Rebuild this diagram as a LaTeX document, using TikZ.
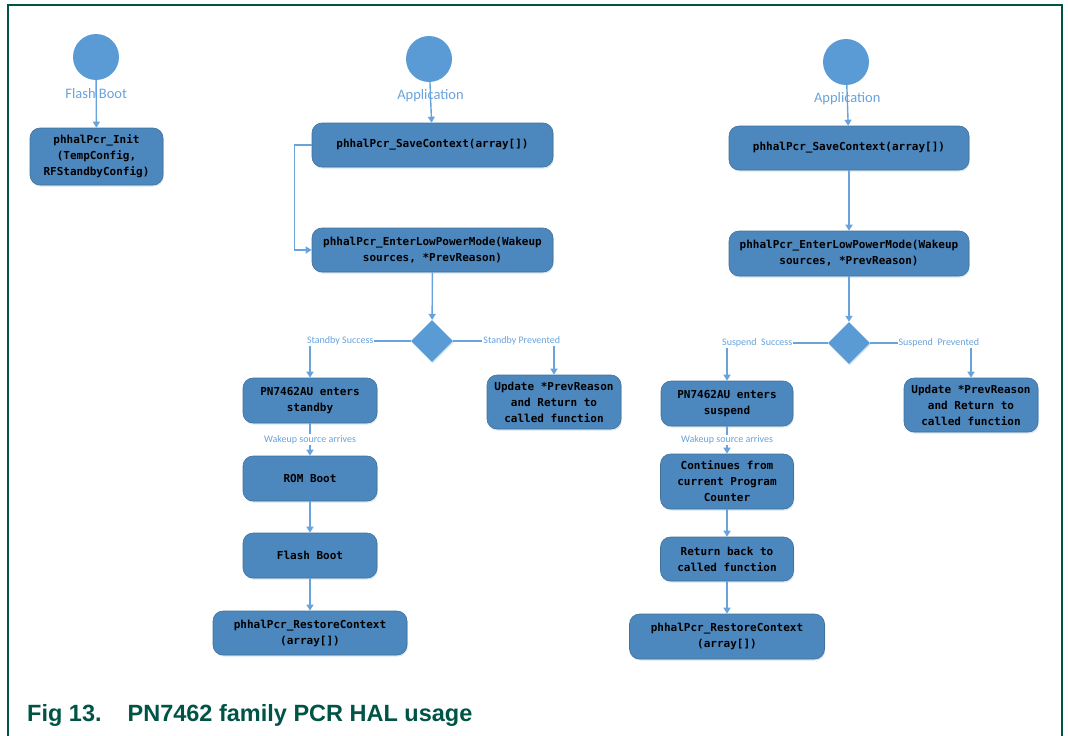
\documentclass[tikz,border=0pt]{standalone}
\usepackage{fontspec}
\setmainfont{Carlito}
\newfontfamily\monopcr{DejaVu Sans Mono}
\newfontfamily\legendepcr{Liberation Sans}
\usetikzlibrary{shapes.geometric}
\usetikzlibrary{arrows.meta}
\usetikzlibrary{shadows}
\definecolor{boitebleu}{RGB}{76,135,189}
\definecolor{bordbleu}{RGB}{65,113,156}
\definecolor{clairbleu}{RGB}{91,155,213}
\definecolor{lienbleu}{RGB}{104,163,220}
\definecolor{vertnxp}{RGB}{0,84,70}

\begin{document}
\begin{tikzpicture}[x=1pt,y=-1pt]
% définition des paramètres
\tikzstyle boitepcr=[draw=bordbleu,line width=0.6pt,fill=boitebleu,rounded corners=10pt,align=center,text=black,inner sep=2pt,font=\monopcr\bfseries\fontsize{11}{16}\selectfont,drop shadow={shadow xshift=0.8pt,shadow yshift=-1.5pt,opacity=0.25,fill=clairbleu}]
\tikzstyle rondpcr=[circle,fill=clairbleu,minimum size=46pt,inner sep=0pt]
\tikzstyle losangepcr=[diamond,fill=clairbleu,minimum width=42pt,minimum height=42pt,inner sep=0pt,drop shadow={shadow xshift=0.8pt,shadow yshift=-1.5pt,opacity=0.25,fill=clairbleu}]
\tikzstyle lienpcr=[draw=lienbleu,line width=1.4pt,-{Triangle[width=7pt,length=6pt]}]
\tikzstyle textepcr=[text=lienbleu,font=\fontsize{10}{12}\selectfont,inner sep=1pt,fill=white]
\tikzstyle titrepcr=[text=lienbleu,font=\fontsize{14.5}{17}\selectfont,inner sep=0pt]
\useasboundingbox (0,0) rectangle (1068,736);
% le cadre
\draw[vertnxp,line width=1.2pt] (8,736) -- (8,5) -- (1062,5) -- (1062,736);
% colonne de gauche
\node[rondpcr] (rond1) at (96,57) {};
\node[boitepcr,minimum width=133pt,minimum height=57pt] (init) at (96.5,156.5) {phhalPcr\_Init\\(TempConfig,\\RFStandbyConfig)};
\draw[lienpcr] (rond1) -- node[titrepcr,pos=0.27] {Flash Boot} (init);
% colonne du milieu : standby
\node[rondpcr] (rond2) at (429,59) {};
\node[boitepcr,minimum width=241pt,minimum height=44pt] (sauve1) at (432.5,145) {phhalPcr\_SaveContext(array[])};
\node[boitepcr,minimum width=241pt,minimum height=44pt] (entre1) at (432.5,250) {phhalPcr\_EnterLowPowerMode(Wakeup\\sources, *PrevReason)};
\node[losangepcr] (choix1) at (432,341) {};
\node[boitepcr,minimum width=134pt,minimum height=45pt] (standby) at (310,400.5) {PN7462AU enters\\standby};
\node[boitepcr,minimum width=134pt,minimum height=54pt] (maj1) at (554,402) {Update *PrevReason\\and Return to\\called function};
\node[boitepcr,minimum width=134pt,minimum height=45pt] (rom) at (310,478.5) {ROM Boot};
\node[boitepcr,minimum width=134pt,minimum height=45pt] (flash) at (310,555.5) {Flash Boot};
\node[boitepcr,minimum width=194pt,minimum height=44pt] (restaure1) at (310,633) {phhalPcr\_RestoreContext\\(array[])};
\draw[lienpcr] (rond2) -- node[titrepcr,pos=0.34] {Application} (sauve1);
\draw[lienpcr] (sauve1.west) -- ++(-17,0) |- (entre1.west);
\draw[lienpcr] (entre1) -- (choix1);
\draw[lienpcr] (choix1.west) -| node[textepcr,pos=0.35] {Standby Success} (standby.north);
\draw[lienpcr] (choix1.east) -| node[textepcr,pos=0.34] {Standby Prevented} (maj1.north);
\draw[lienpcr] (standby) -- node[textepcr] {Wakeup source arrives} (rom);
\draw[lienpcr] (rom) -- (flash);
\draw[lienpcr] (flash) -- (restaure1);
% colonne de droite : suspend
\node[rondpcr] (rond3) at (846,62) {};
\node[boitepcr,minimum width=240pt,minimum height=44pt] (sauve2) at (849,148) {phhalPcr\_SaveContext(array[])};
\node[boitepcr,minimum width=240pt,minimum height=45pt] (entre2) at (849,253.5) {phhalPcr\_EnterLowPowerMode(Wakeup\\sources, *PrevReason)};
\node[losangepcr] (choix2) at (849,343) {};
\node[boitepcr,minimum width=132pt,minimum height=45pt] (suspend) at (727,403.5) {PN7462AU enters\\suspend};
\node[boitepcr,minimum width=134pt,minimum height=54pt] (maj2) at (971,405) {Update *PrevReason\\and Return to\\called function};
\node[boitepcr,minimum width=133pt,minimum height=55pt] (continue) at (727,481.5) {Continues from\\current Program\\Counter};
\node[boitepcr,minimum width=133pt,minimum height=44pt] (retour) at (727,559) {Return back to\\called function};
\node[boitepcr,minimum width=195pt,minimum height=45pt] (restaure2) at (727,636.5) {phhalPcr\_RestoreContext\\(array[])};
\draw[lienpcr] (rond3) -- node[titrepcr,pos=0.34] {Application} (sauve2);
\draw[lienpcr] (sauve2) -- (entre2);
\draw[lienpcr] (entre2) -- (choix2);
\draw[lienpcr] (choix2.west) -| node[textepcr,pos=0.35] {Suspend\ \ Success} (suspend.north);
\draw[lienpcr] (choix2.east) -| node[textepcr,pos=0.34] {Suspend\ \ Prevented} (maj2.north);
\draw[lienpcr] (suspend) -- node[textepcr] {Wakeup source arrives} (continue);
\draw[lienpcr] (continue) -- (retour);
\draw[lienpcr] (retour) -- (restaure2);
% la légende
\node[anchor=base west,text=vertnxp,inner sep=0pt,font=\legendepcr\bfseries\fontsize{23.5}{26}\selectfont] (legende) at (27,721) {Fig 13.\hspace{26pt}PN7462 family PCR HAL usage};
\end{tikzpicture}
\end{document}
